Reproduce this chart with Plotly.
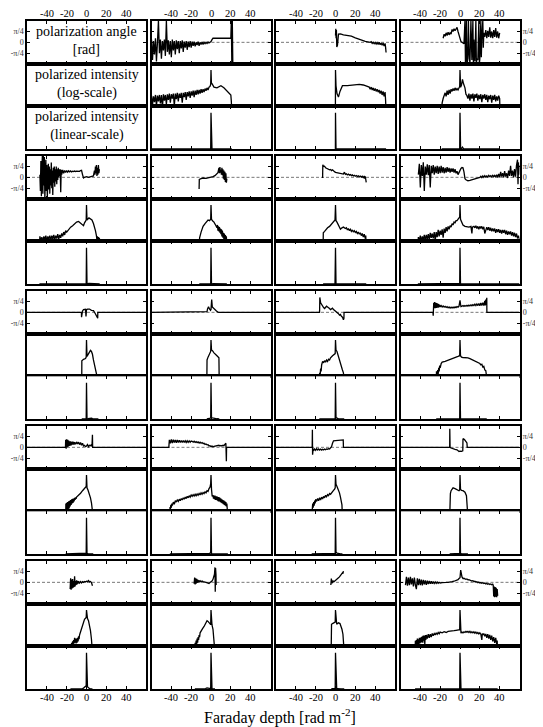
import math
import plotly.graph_objects as go

# ---------------- data ----------------
# Faraday depth x [rad m^-2]; angle in rad; polarized intensity stored as log10(PI / PI_peak)

def steps(x0, dx, ys):
    return [(round(x0 + i * dx, 3), y) for i, y in enumerate(ys)]

X_TICKS = [-40, -20, 0, 20, 40]
X_TICKTEXT = ["-40", "-20", "0", "20", "40"]
ANG_TICKS = [-math.pi / 4, 0, math.pi / 4]
ANG_TICKTEXT = ["-π/4", "0", "π/4"]
LABELS_R1C1 = ["polarization angle<br>[rad]", "polarized intensity<br>(log-scale)",
               "polarized intensity<br>(linear-scale)"]

R1C2_ANG = steps(-60, 1, [0.2, -1.3, 0.1, -0.9, 0.3, -1.4, 0.0, 1.6, -0.8, 0.2, -1.2, 0.1, -0.6, 0.2, -1.0, 1.6,
                          -0.7, 0.15, -0.9, 0.1, -1.1, 0.2, -0.6, 0.1, -0.9, 0.15, -0.5, 0.1, -0.8, 0.1, -0.45, 0.15,
                          -0.7, 0.05, -0.4, 0.1, -0.55, 0.05, -0.35, 0.1, -0.4, 0.05, -0.25, 0.05, -0.3, 0.0, -0.2,
                          0.05, -0.25, 0.0, -0.15, 0.02, -0.15, 0.0, -0.1, 0.0, -0.08, 0.02, -0.05, 0.0, 0.05]) + \
    [(1, 0.2), (2, 0.3), (5, 0.3), (8, 0.32), (12, 0.3), (16, 0.3), (19, 0.28), (20, 0.3), (20.5, 1.6),
     (21, -1.6), (21.5, 1.6), (22, -1.6)]
R1C2_PI = steps(-60, 1, [-3.6, -4.9, -3.7, -4.5, -3.5, -5.0, -3.6, -4.4, -3.5, -4.7, -3.5, -5.2, -3.4, -4.3, -3.5,
                         -4.8, -3.4, -4.2, -3.3, -4.6, -3.4, -4.0, -3.3, -5.0, -3.3, -4.1, -3.2, -4.4, -3.3, -3.9,
                         -3.2, -4.6, -3.2, -3.8, -3.1, -4.2, -3.1, -3.7, -3.0, -3.9, -3.0, -3.6, -2.9, -3.8, -2.9,
                         -3.5, -2.8, -3.4, -2.8, -3.3, -2.7, -3.2, -2.7, -3.1, -2.6, -2.9, -2.5, -2.8, -2.4, -2.3]) + \
    [(-0.3, -2.0), (0, 0.0), (0.4, -1.8), (1, -1.9), (3, -2.4), (6, -2.5), (10, -2.2), (13, -2.5), (17, -3.0),
     (20, -3.5), (20.5, -4.4), (21, -6)]

R1C3_ANG = [(0, 0.5), (0.3, 1.0), (0.6, 0.3), (0.9, 0.9), (1.3, -0.35), (2, -0.2), (3, 0.6), (5, 0.62), (8, 0.55),
            (12, 0.52), (16, 0.45), (20, 0.33), (25, 0.2), (30, 0.07), (35, 0.0)] + \
    steps(36, 1, [0.05, -0.08, 0.0, -0.1, 0.0, -0.12, -0.02, -0.15, 0.0, -0.18, -0.05, -0.22, -0.05, -0.28, -0.08]) + \
    [(50.5, -0.35), (51, -0.75)]
R1C3_PI = [(-0.1, -6), (0, 0.0), (0.5, -2.2), (1.5, -3.3), (3, -3.8), (4.5, -3.0), (7, -2.2), (12, -2.2),
           (16, -2.1), (20, -2.0), (24, -2.0), (28, -2.1), (32, -2.3)] + \
    steps(34, 1, [-2.4, -2.7, -2.4, -2.8, -2.5, -2.9, -2.6, -3.0, -2.7, -3.1, -2.8, -3.3, -2.9, -3.5, -3.0, -3.7,
                  -3.1]) + [(50.5, -4.2), (51, -6)]

R1C4_ANG = steps(-17, 1, [0.3, 0.6, 0.45, 0.7, 0.5, 0.75, 0.55, 0.7, 0.6, 0.95, 0.8, 1.0, 0.85, 1.05, 1.1, 0.8, 0.5,
                          0.15, 0.05, 0.0, -0.05, -0.1]) + \
    [(5, 1.6), (5.5, -1.6), (6, -0.8), (6.5, 1.6), (7, -1.6), (8, -1.2), (8.5, 1.6), (9, -0.5), (10, -1.6),
     (11, 1.6), (11.5, -1.2), (12, -1.3), (13, 1.6), (13.5, -1.6), (14, 0.2), (15, -1.4), (16, 1.6), (16.5, -1.6),
     (17, -1.2), (18, -1.3), (19, 1.6), (19.5, -1.6), (20, -1.2), (21, 1.6), (21.5, -1.1), (22, 0.3), (23, 1.6),
     (23.5, -0.4), (24, 0.7)] + \
    steps(25, 1, [0.4, 0.9, 0.3, 0.85, 0.4, 1.1, 0.35, 0.8, 0.3, 0.9, 0.4, 1.05, 0.35, 0.8, 0.3, 0.7])
R1C4_PI = [(-18.5, -6)] + \
    steps(-18, 1, [-4.6, -4.0, -3.6, -3.2, -3.7, -2.9, -3.5, -2.8, -3.3, -2.7, -3.0, -2.6, -2.9, -2.5, -2.8, -2.6,
                   -2.8, -2.5]) + \
    [(-0.3, -2.3), (0, 0.0), (0.6, -2.4), (1.5, -2.1), (2.5, -1.3), (3.5, -1.9), (5, -2.5), (6, -3.4), (7, -3.6)] + \
    steps(8, 1, [-4.0, -3.3, -4.3, -3.4, -4.0, -3.3, -4.4, -3.4, -3.9, -3.3, -4.3, -3.5, -4.1, -3.4, -4.5, -3.5,
                 -4.0, -3.4, -4.2, -3.5, -4.5, -3.6, -4.1, -3.5, -4.6, -3.6, -4.2, -3.5, -4.4, -3.7, -4.3, -3.6,
                 -4.0]) + [(40.3, -6)]

R2C1_ANG = steps(-47, 0.5, [0.2, -1.0, 1.2, -1.4, 0.6, 1.6, -1.2, 1.6, -0.6, 1.5, -1.6, 0.4, 1.3, -1.0, 0.9, -1.5,
                            0.5, 1.0, -0.9, 0.8, -1.2, 0.6, -0.6, 1.1, -0.8, 0.5, -1.3, 0.7, -0.4, 0.8, -0.7, 0.6,
                            -0.3, 0.8, -0.5, 0.6, -0.2, 0.7, 0.0, 0.6, 0.1, 0.6, -1.1, 0.55, 0.2]) + \
    steps(-24, 1, [0.55, 0.3, 0.5, 0.35, 0.5, 0.38, 0.48, 0.4, 0.47, 0.4, 0.45, 0.42, 0.46, 0.42, 0.45, 0.43, 0.45,
                   0.44, 0.5, 0.52, 0.2, -0.05, 0.0]) + \
    [(0, 0.05), (2, 0.0), (4, 0.02), (6, 0.05), (7, 0.1)] + \
    steps(8, 0.5, [0.5, 0.2, 0.8, 0.3, 0.9, 0.1, 0.7, 0.2, 0.9, 0.3, 0.6])
R2C1_PI = [(-47.5, -6)] + \
    steps(-47, 1, [-4.4, -5.0, -4.5, -5.2, -4.4, -4.9, -4.3, -5.1, -4.4, -4.8, -4.3, -5.0, -4.3, -4.8, -4.2, -4.9,
                   -4.3, -4.7, -4.1, -4.8, -4.2, -4.6, -4.0, -4.4, -3.8, -4.2, -3.6]) + \
    [(-20, -3.8), (-18, -3.4), (-16, -3.1), (-14, -2.9), (-12, -2.6), (-10, -2.4), (-8, -2.3), (-6, -2.5),
     (-4, -2.8), (-3, -2.9), (-2, -2.5), (-1, -2.2), (-0.3, -2.1), (0, 0.0), (0.5, -2.1), (1.2, -2.0), (2.5, -1.8),
     (4, -1.9), (5.5, -2.1), (7, -2.6), (8, -3.0), (9, -3.6), (10, -4.3)] + \
    steps(10.5, 0.5, [-4.9, -4.4, -5.0, -4.5, -5.1, -4.6]) + [(13.3, -6)]

R2C2_ANG = [(-12, -0.86), (-11.8, -0.15), (-10, -0.1), (-8, -0.05), (-5, -0.08), (-3, -0.05), (0, 0.0), (2, 0.05),
            (4, 0.12), (6, 0.25), (7, 0.35)] + \
    steps(8, 0.5, [0.7, 0.3, 0.75, 0.35, 0.55, 0.2, 0.7, 0.15, 0.6, -0.1, 0.5, -0.2, 0.4, -0.35, 0.3, -0.4, -0.1])
R2C2_PI = [(-11.8, -6), (-11.5, -4.6), (-10, -3.8), (-8, -3.0), (-6, -2.6), (-5, -2.4), (-3, -2.1), (-1.5, -2.2),
           (-0.3, -2.0), (0, 0.0), (0.5, -2.0), (1.5, -2.2), (3, -2.4), (5, -2.9)] + \
    steps(6, 0.5, [-3.2, -2.8, -3.6, -3.0, -3.7, -3.1, -3.9, -3.3, -4.1, -3.4, -4.4, -3.6, -4.6, -3.9, -4.8, -4.0,
                   -4.9, -4.2, -5.0, -4.4]) + [(16, -6)]

R2C3_ANG = [(-13, -0.05), (-12.8, 0.93)] + \
    steps(-12, 1, [0.8, 0.82, 0.7, 0.66, 0.6, 0.62, 0.55, 0.58, 0.5, 0.55, 0.45, 0.42, 0.37, 0.36, 0.3, 0.34, 0.28,
                   0.31, 0.26, 0.3, 0.24, 0.38, 0.22, 0.26, 0.18, 0.24, 0.16, 0.2, 0.13, 0.18, 0.1, 0.15, 0.08, 0.13,
                   0.06, 0.11, 0.04, 0.09, 0.02, 0.08, -0.02, 0.1]) + \
    [(29.5, -0.1), (30, 0.08), (30.5, -0.2), (31, -0.37)]
R2C3_PI = [(-12.5, -6), (-12.3, -3.9), (-11, -3.7), (-10, -3.5), (-8, -3.2), (-6, -3.0), (-4, -2.7), (-2, -2.4),
           (-0.5, -2.1), (0, 0.0), (0.5, -2.2), (1.5, -2.4), (3, -2.9), (5, -3.4), (6.5, -3.2), (8, -3.1),
           (10, -3.3)] + \
    steps(11, 1, [-3.2, -3.5, -3.3, -3.6, -3.4, -3.7, -3.5, -3.8, -3.6, -3.85, -3.7, -4.0, -3.8, -4.1, -3.9, -4.3,
                  -4.0, -4.5, -4.1, -4.7]) + [(30.5, -4.3), (31, -6)]

R2C4_ANG = steps(-42, 1, [0.2, 1.0, -0.75, 0.9, 0.1, 1.1, -1.0, 0.8, 0.2, 0.95, 0.15, 0.9, -0.75, 0.85, 0.3, 0.9,
                          0.2, 0.8, 0.3, 0.85, 0.25, 0.8, 0.3, 0.85, 0.35, 0.75, 0.3, 0.7, 0.35, 0.75, 0.4, 0.7,
                          0.35, 0.65, 0.4, 0.65, 0.35, 0.6, 0.3, 0.45, 0.2, 0.35, 0.55, 0.65, 0.72, 0.7, 0.4, -0.1,
                          -0.18]) + \
    [(8, -0.25), (10, -0.22), (12, -0.18), (14, -0.12), (16, -0.08), (18, -0.05), (20, 0.0)] + \
    steps(21, 1, [0.08, -0.02, 0.1, 0.0, 0.12, 0.02, 0.1, 0.03, 0.14, 0.05, 0.12, 0.04, 0.15, 0.05, 0.14, 0.02, 0.2,
                  0.0, 0.25, 0.0, 0.4, 0.05, 0.3, 0.0, 0.45, 0.05, 0.3, -0.05, 0.5, 0.1, 0.85, 0.1, 0.5, 0.0, 0.6,
                  0.05, 0.9, 1.3]) + \
    [(58.5, -0.5), (59, 1.1), (59.5, 0.2), (60, 0.9)]
R2C4_PI = [(-42.5, -6)] + \
    steps(-42, 1, [-4.5, -5.0, -4.3, -5.1, -4.4, -4.9, -4.2, -5.0, -4.2, -4.8, -4.1, -4.9, -3.9, -4.6, -4.0, -4.7,
                   -3.8, -5.0, -3.8, -4.5, -3.5, -4.4, -3.6, -4.2, -3.4, -4.6, -3.3, -3.9, -3.1, -3.7, -3.0, -3.4,
                   -2.9, -3.1, -2.6, -2.8, -2.4, -2.5, -2.2, -2.2, -1.9, -1.8]) + \
    [(-0.3, -1.7), (0, 0.0), (0.5, -2.0), (1.5, -2.3), (3, -2.8), (5, -3.0), (7, -3.05), (9, -3.1), (11, -3.0),
     (12, -4.0), (12.5, -3.1), (14, -3.0)] + \
    steps(15, 1, [-3.2, -2.9, -3.3, -3.0, -3.4, -3.0, -3.3, -3.0, -3.4, -3.05, -4.0]) + \
    steps(26, 1, [-3.4, -3.1, -3.5, -3.1, -3.6, -3.2, -3.7, -3.3, -3.7, -3.3, -3.9, -3.4, -3.8, -3.4, -3.9, -3.5,
                  -4.0, -3.5, -3.9, -3.5, -4.1, -3.6, -4.2, -3.7, -4.1, -3.7, -4.3, -3.8, -4.4, -3.9, -4.5, -4.0,
                  -4.7, -4.3, -4.8])

R3C1_ANG = [(-60, 0), (-5.1, 0), (-5, -0.36), (-4, 0.1), (-3, 0.2), (-2, 0.24), (-1, 0.22), (-0.5, -0.31),
            (0, 0.2), (1, 0.24), (3, 0.24), (5, 0.15), (7, 0.12), (8.5, -0.05), (10, -0.24), (11.3, -0.43),
            (11.4, 0), (60, 0)]
R3C1_PI = [(-4.8, -6), (-4.7, -2.9), (-3, -2.7), (-1, -2.6), (-0.3, -2.4), (0, 0.0), (0.5, -2.3), (1.5, -2.1),
           (2.5, -1.75), (4, -1.45), (5, -1.6), (6, -2.0), (7, -2.8), (8, -3.3), (9, -3.7), (10, -4.1),
           (11.5, -4.8), (12, -6)]

R3C2_ANG = [(-60, 0), (-4.1, 0), (-4, 0.05), (-3.5, 0.25), (-2.5, 0.4), (-1.5, 0.25), (-0.5, 0.15), (0, 0.2),
            (0.7, 0.95), (1.3, 0.4), (2.5, 0.3), (4, 0.25), (5.5, 0.1), (7, 0.02), (8, 0.0), (60, 0)]
R3C2_PI = [(-4.2, -6), (-4, -2.8), (-3, -2.4), (-2, -2.1), (-1, -1.8), (-0.3, -1.6), (0, 0.0), (0.5, -1.4),
           (1.5, -1.5), (3, -1.8), (6, -2.2), (8, -2.5), (8.3, -6)]

R3C3_ANG = [(-60, 0), (-16.1, 0), (-16, 0.2), (-15.8, 1.1), (-15, 0.7), (-14, 0.55), (-13, 0.4), (-12, 0.35),
            (-11, 0.28), (-10, 0.35), (-9, 0.45), (-8, 0.4), (-7, 0.3), (-6, 0.28), (-5, 0.2), (-4, 0.25),
            (-3, 0.3), (-2, 0.2), (-1, 0.15), (0, 0.1), (1, 0.0), (2, -0.05), (3, -0.1), (4, -0.2), (5, -0.15),
            (6, -0.3), (7, -0.35), (8, -0.55), (8.5, -0.45), (8.6, 0), (60, 0)]
R3C3_PI = [(-16.3, -6), (-16, -4.6), (-15.5, -5.0), (-15, -4.0), (-14.5, -4.4), (-14, -3.5), (-13, -3.0),
           (-12, -3.2), (-11, -2.9), (-10, -3.1), (-9, -2.8), (-8, -3.0), (-7, -2.7), (-6, -2.8), (-5, -2.5),
           (-3, -2.2), (-1, -2.0), (-0.3, -1.9), (0, 0.0), (0.5, -1.4), (1.5, -1.6), (3, -2.4), (5, -3.4),
           (7, -4.2), (8, -4.6), (8.8, -6)]

R3C4_ANG = [(-60, 0), (-27.3, 0), (-27, -0.25)] + \
    steps(-26.5, 0.5, [0.7, 0.3, 0.75, 0.3, 0.7, 0.32, 0.68, 0.35, 0.65, 0.35, 0.6, 0.38, 0.55, 0.4]) + \
    steps(-19, 1, [0.5, 0.4, 0.47, 0.38, 0.44, 0.36, 0.42, 0.33, 0.4, 0.31, 0.38, 0.32, 0.38, 0.33, 0.4, 0.35, 0.42,
                   0.38, 0.45]) + \
    [(0, 0.88), (0.5, 0.6)] + \
    steps(1, 1, [0.42, 0.45, 0.5, 0.44, 0.5, 0.45, 0.52, 0.46, 0.53, 0.47, 0.55, 0.48, 0.56, 0.5, 0.6, 0.5, 0.62,
                 0.5, 0.65, 0.48, 0.68, 0.5, 0.7, 0.5]) + \
    [(25, 0.85), (25.5, 0.5), (26, 0.95), (26.5, 0.55), (27, 1.07), (27.1, 0), (60, 0)]
R3C4_PI = [(-24, -6), (-23.7, -4.4), (-23, -5.0), (-22.5, -4.2), (-22, -4.8), (-21.5, -3.9), (-21, -4.4),
           (-20.5, -3.6), (-20, -3.9), (-19, -3.3), (-18, -3.1), (-15, -3.0), (-12, -2.85), (-10, -2.8),
           (-7, -2.65), (-4, -2.5), (-2, -2.3), (-0.3, -2.2), (0, 0.0), (0.5, -2.2), (1.5, -2.4), (3, -2.45),
           (5, -2.45), (8, -2.5), (10, -2.6), (13, -2.8), (16, -3.0), (18, -3.2), (20, -3.3), (21, -3.5),
           (22, -3.4), (23, -3.8), (24, -3.7), (25, -4.2), (26, -4.3), (26.5, -4.8), (27, -6)]

R4C1_ANG = [(-60, 0), (-21.2, 0)] + \
    steps(-21, 0.5, [0.55, -0.1, 0.6, 0.0, 0.55, 0.05, 0.5, 0.1, 0.45, 0.12, 0.45, 0.15, 0.4, 0.2, 0.42, 0.2, 0.4,
                     0.2, 0.38]) + \
    steps(-11, 1, [0.22, 0.4, 0.25, 0.38, 0.2, 0.35, 0.15, 0.3, 0.1, 0.15, 0.05, 0.1, 0.2, 0.05, 0.15, 0.12, 0.2]) + \
    [(5.5, 0.05), (6, 0.93), (6.2, 0), (60, 0)]
R4C1_PI = [(-21, -6), (-20.8, -4.0)] + \
    steps(-20.5, 0.5, [-5.2, -3.9, -5.0, -3.8, -4.9, -3.7, -4.7, -3.6, -4.4, -3.5, -4.2, -3.4, -4.0, -3.35, -3.9,
                       -3.3, -3.7, -3.2, -3.5, -3.15, -3.35, -3.1]) + \
    [(-8, -2.85), (-6, -2.55), (-4, -2.2), (-2, -1.8), (-0.3, -1.6), (0, 0.0), (0.5, -1.8), (1.5, -2.1), (3, -2.7),
     (4, -3.2), (5, -3.9), (6, -4.6), (6.8, -6)]

R4C2_ANG = [(-60, 0), (-42.5, 0), (-42.3, 0.25)] + \
    steps(-42, 1, [0.55, 0.3, 0.58, 0.32, 0.56, 0.35, 0.55, 0.34, 0.54, 0.36, 0.52, 0.35, 0.5, 0.36, 0.5, 0.36, 0.48,
                   0.36, 0.48, 0.37, 0.47, 0.37, 0.46]) + \
    steps(-19, 1, [0.44, 0.38, 0.45, 0.36, 0.42, 0.35, 0.4, 0.32, 0.38, 0.3, 0.35, 0.28, 0.3, 0.22, 0.25, 0.18, 0.2,
                   0.1, 0.12, 0.05, 0.1, 0.04, 0.08, 0.1, 0.14, 0.12, 0.18, 0.15, 0.1, 0.14, 0.1, 0.15, 0.12, 0.18]) + \
    [(15, 0.3), (15.5, -1.03), (15.7, 0), (60, 0)]
R4C2_PI = [(-41.5, -6), (-41.3, -4.5), (-41, -4.9), (-40.5, -4.2), (-40, -4.6), (-39.5, -4.0), (-39, -4.3)] + \
    steps(-38, 1, [-3.8, -4.1, -3.6, -3.8, -3.5, -3.7, -3.4, -3.6, -3.3, -3.5, -3.2, -3.4, -3.1, -3.3, -3.0, -3.2,
                   -2.9, -3.1, -2.8, -3.0, -2.75, -2.95, -2.7, -2.9, -2.65, -2.85, -2.6, -2.8, -2.5, -2.7, -2.45,
                   -2.6, -2.35, -2.5, -2.2, -2.3, -1.9, -1.7]) + \
    [(-0.3, -1.2), (0, 0.0), (0.5, -2.0), (1.2, -3.0)] + \
    steps(2, 0.5, [-2.8, -3.3, -2.9, -3.4, -2.9, -3.5, -3.0, -3.5, -3.0, -3.6, -3.1, -3.7, -3.1, -3.7, -3.2, -3.8,
                   -3.3, -3.9, -3.4, -4.0, -3.5, -4.1, -3.6, -4.2, -3.7, -4.3, -3.8, -4.4, -4.0, -4.6]) + [(17, -6)]

R4C3_ANG = [(-60, 0), (-23.5, 0), (-23.3, 1.3), (-23.1, -0.54), (-22.5, -0.1)] + \
    steps(-22, 1, [-0.25, -0.12, -0.22, -0.1, -0.2, -0.12, -0.2, -0.13, -0.2, -0.14, -0.19, -0.13, -0.18, -0.12,
                   -0.15, -0.1, -0.12, -0.05, 0.05, 0.3, 0.48]) + \
    [(0, 0.5), (2, 0.52), (4, 0.55), (6, 0.52), (7.8, 0.55), (8, 0), (60, 0)]
R4C3_PI = [(-24, -6), (-23.7, -4.2), (-23.3, -4.9), (-23, -4.0), (-22.5, -4.6), (-22, -3.8), (-21.5, -4.3),
           (-21, -3.6), (-20.5, -4.0), (-20, -3.4)] + \
    steps(-19, 1, [-3.7, -3.3, -3.6, -3.2, -3.5, -3.1, -3.35, -3.0, -3.2, -2.85, -3.05, -2.75, -2.9, -2.6, -2.7,
                   -2.45, -2.4, -2.15, -2.0]) + \
    [(-0.3, -1.8), (0, 0.0), (0.5, -1.3), (1.5, -1.6), (3, -2.1), (4, -2.5), (5, -3.1), (6, -3.8), (6.5, -4.2),
     (7, -6)]

R4C4_ANG = [(-60, 0), (-10.4, 0), (-10.3, 1.37), (-10, 0.0), (-9, -0.05), (-7, -0.12), (-5, -0.15), (-3, -0.18),
            (-1, -0.3), (0, -0.28), (1.5, -0.3), (2.8, -0.25), (3, 0.64), (4.5, 0.57), (5.7, 0.39), (7, 0.32),
            (7.3, 0), (60, 0)]
R4C4_PI = [(-10.4, -6), (-10.3, -3.3), (-9.7, -2.6), (-9, -2.2), (-7, -1.8), (-5, -1.9), (-3, -2.1), (-1, -2.2),
           (-0.3, -2.1), (0, 0.0), (0.5, -2.0), (1.5, -2.15), (3, -2.2), (5, -2.4), (6.5, -2.9), (7.5, -3.9),
           (8, -6)]

R5C1_ANG = steps(-16.5, 0.5, [-0.5, 0.3, -0.55, 0.2, -0.45, 0.25, -0.4, 0.1, -0.35, 0.45, -0.3, 0.1, -0.2, 0.15,
                              -0.15, 0.1, -0.1, 0.08]) + \
    steps(-7, 1, [-0.05, 0.06, -0.04, 0.05, 0.0, 0.06, 0.02, 0.08, 0.05, 0.13, 0.03, 0.06, -0.02]) + \
    [(5.5, -0.15), (6, -0.25)]
R5C1_PI = [(-16.2, -6)] + \
    steps(-16, 0.5, [-4.8, -5.3, -4.6, -5.2, -4.4, -5.0, -4.2, -4.7, -3.9, -4.6, -4.0, -4.7, -4.0, -4.6, -3.9, -4.4,
                     -3.7, -4.1, -3.5]) + \
    [(-6, -3.1), (-5, -2.5), (-4, -2.0), (-3, -1.6), (-2, -1.3), (-1, -1.15), (-0.3, -1.05), (0, 0.0), (0.5, -1.1),
     (1, -1.2), (2, -1.5), (3, -2.1), (4, -2.9), (5, -4.1), (6, -6)]

R5C2_ANG = steps(-17, 0.5, [-0.1, 0.35, -0.15, 0.3, -0.1, 0.25, -0.05, 0.2, 0.0, 0.15, 0.02]) + \
    steps(-11, 1, [0.12, 0.04, 0.1, 0.05, 0.06, 0.02, 0.0, -0.03, -0.05, -0.08, -0.02, 0.02, 0.1, 0.22, 0.45]) + \
    [(3.5, 0.6), (4, 1.1), (4.3, -0.7), (4.6, 1.05), (5, 0.6), (5.2, -0.2)]
R5C2_PI = [(-16.3, -6)] + \
    steps(-16, 0.5, [-4.6, -5.1, -4.3, -4.9, -4.0, -4.6, -3.8, -4.2, -3.5, -3.8, -3.2]) + \
    [(-10, -2.9), (-8.5, -2.6), (-7, -2.3), (-5.5, -1.9), (-4, -1.5), (-3, -1.6), (-2, -1.8), (-1, -2.0),
     (-0.3, -2.05), (0, 0.0), (0.5, -2.0), (1, -2.1), (2, -2.7), (3, -3.6), (3.8, -4.6), (4, -6)]

R5C3_ANG = [(-4.7, -0.2), (-4.2, 0.27), (-3.5, -0.07), (-2.5, 0.1), (-1.5, 0.05), (0, 0.17), (1, 0.2), (2, 0.28),
            (3, 0.34), (4, 0.4), (5, 0.5), (6, 0.55), (7, 0.7), (7.5, 0.65), (8, 0.83)]
R5C3_PI = [(-4.4, -6), (-4.3, -2.6), (-4, -2.0), (-3, -1.9), (-1, -1.8), (-0.3, -1.7), (0, 0.0), (0.5, -1.9),
           (1.2, -2.0), (2, -1.9), (3, -1.8), (4.5, -1.9), (5.5, -2.2), (6.5, -2.7), (7.5, -3.4), (8.3, -4.4),
           (8.8, -6)]

R5C4_ANG = steps(-55, 1, [-0.2, 0.4, -0.25, 0.35, -0.2, 0.4, -0.15, 0.3, -0.3, 0.35, -0.2, -0.5, 0.3, -0.2, 0.25,
                          -0.2, 0.2, -0.22, 0.18, -0.15, 0.15, -0.18, 0.12, -0.12, 0.1, -0.1, 0.08, -0.1, 0.05,
                          -0.08, 0.03, -0.08, 0.02, -0.07, 0.0, -0.05]) + \
    [(-18, -0.02), (-16, -0.04), (-14, -0.01), (-12, 0.0), (-10, 0.0), (-8, 0.05), (-6, 0.08), (-4, 0.12),
     (-2, 0.2), (-1, 0.28), (0, 0.34), (0.7, 0.9), (1.2, 0.45)] + \
    steps(2, 1, [0.4, 0.28, 0.3, 0.25, 0.22, 0.25, 0.18, 0.2, 0.15, 0.16, 0.1, 0.12, 0.06, 0.08, 0.02, 0.05, -0.02,
                 0.02, -0.05, -0.02, -0.07, -0.03, -0.09, -0.05, -0.12, -0.08, -0.14, -0.1, -0.16, -0.12, -0.18,
                 -0.13]) + \
    steps(33.5, 0.5, [-0.2, -1.05, -0.3, -1.1, -0.35, -1.05, -0.4, -1.1, -0.5, -1.0])
R5C4_PI = [(-45.3, -6)] + \
    steps(-45, 0.5, [-4.3, -5.2, -4.2, -5.0, -4.0, -4.9, -4.1, -4.8, -3.9, -4.7, -3.9, -4.6, -3.8, -4.5, -3.7, -4.6,
                     -3.6, -4.3, -3.6, -4.8, -3.5, -4.2, -3.5]) + \
    steps(-33, 1, [-4.0, -3.4, -3.9, -3.4, -3.8, -3.3, -3.6, -3.3, -3.5, -3.2, -3.4, -3.15, -3.35, -3.1]) + \
    [(-18, -3.2), (-16, -3.05), (-14, -3.15), (-12, -3.0), (-10, -3.0), (-8, -2.95), (-6, -2.9), (-4, -2.85),
     (-2, -2.8), (-0.3, -2.75), (0, 0.0), (0.5, -2.8)] + \
    steps(1, 1, [-3.25, -3.1, -3.2, -3.05, -3.15, -3.0, -3.1, -3.0, -3.15, -3.0, -3.2, -3.05, -3.2, -3.05, -3.25,
                 -3.1, -3.3, -3.15, -3.35, -3.2, -3.4, -4.2]) + [(22.5, -3.3)] + \
    steps(23, 1, [-3.5, -3.3, -3.7, -3.35, -3.9, -3.4, -4.0, -3.5, -4.2, -3.6, -4.4, -3.8, -4.6, -3.9, -4.8]) + \
    [(37.5, -4.3), (38, -6)]

PANELS = {
    (0, 1): (R1C2_ANG, R1C2_PI), (0, 2): (R1C3_ANG, R1C3_PI), (0, 3): (R1C4_ANG, R1C4_PI),
    (1, 0): (R2C1_ANG, R2C1_PI), (1, 1): (R2C2_ANG, R2C2_PI), (1, 2): (R2C3_ANG, R2C3_PI), (1, 3): (R2C4_ANG, R2C4_PI),
    (2, 0): (R3C1_ANG, R3C1_PI), (2, 1): (R3C2_ANG, R3C2_PI), (2, 2): (R3C3_ANG, R3C3_PI), (2, 3): (R3C4_ANG, R3C4_PI),
    (3, 0): (R4C1_ANG, R4C1_PI), (3, 1): (R4C2_ANG, R4C2_PI), (3, 2): (R4C3_ANG, R4C3_PI), (3, 3): (R4C4_ANG, R4C4_PI),
    (4, 0): (R5C1_ANG, R5C1_PI), (4, 1): (R5C2_ANG, R5C2_PI), (4, 2): (R5C3_ANG, R5C3_PI), (4, 3): (R5C4_ANG, R5C4_PI),
}

# ---------------- layout ----------------
# the page body adds an 8 px margin, so every screen position is shifted back by 8 px
W, H = 543, 727
OFF = 8


def px_y(screen_y):
    return 1 - (screen_y - OFF) / H


COL_LEFT = [27, 151.5, 276, 400.5]
COL_W = 119
ROW_TOP = [21, 156, 291, 426, 561]
ROW_H = 128
SUB_H = ROW_H / 3
FONT = "Liberation Serif"
LABEL_CENTER_Y = [40, 84, 126]

fig = go.Figure()
layout = dict(width=W, height=H, margin=dict(l=0, r=0, t=0, b=0, pad=0, autoexpand=False), autosize=False,
              template="none",
              paper_bgcolor="white", plot_bgcolor="white", showlegend=False,
              font=dict(family=FONT, color="black"), shapes=[], annotations=[])

k = 0
for r in range(5):
    for c in range(4):
        data = PANELS.get((r, c))
        for s in range(3):
            k += 1
            xname = "xaxis" if k == 1 else f"xaxis{k}"
            yname = "yaxis" if k == 1 else f"yaxis{k}"
            xref = "x" if k == 1 else f"x{k}"
            yref = "y" if k == 1 else f"y{k}"
            L = COL_LEFT[c] - OFF
            top = ROW_TOP[r] - OFF + s * SUB_H
            bot = top + SUB_H
            xd = dict(domain=[L / W, (L + COL_W) / W], range=[-60, 60], tickvals=X_TICKS,
                      ticks="inside", ticklen=3, tickwidth=1, tickcolor="black", showline=True,
                      linecolor="black", linewidth=1.5, mirror="ticks", showgrid=False, zeroline=False,
                      automargin=False, showticklabels=False, anchor=yref)
            yd = dict(domain=[1 - bot / H, 1 - top / H], anchor=xref, showline=True, linecolor="black",
                      linewidth=1.5, mirror=True, showgrid=False, zeroline=False, showticklabels=False,
                      automargin=False, ticks="")
            if s == 0:
                yd.update(range=[-math.pi / 2, math.pi / 2], tickvals=ANG_TICKS, ticktext=ANG_TICKTEXT,
                          ticks="inside", ticklen=3, tickwidth=1, tickcolor="black", mirror="ticks",
                          tickfont=dict(family=FONT, size=8, color="#333"))
                if c == 0:
                    yd.update(showticklabels=True, side="left")
                if c == 3:
                    yd.update(showticklabels=True, side="right")
            elif s == 1:
                yd.update(type="log", range=[-5.1, 0.9])
            else:
                yd.update(range=[0, 1.18])
            layout[xname] = xd
            layout[yname] = yd

            # x tick labels: above the top row, below the bottom row
            if (r == 0 and s == 0) or (r == 4 and s == 2):
                ly = px_y(14) if r == 0 else px_y(697)
                for tv, tt in zip(X_TICKS, X_TICKTEXT):
                    layout["annotations"].append(dict(
                        text=tt, x=tv, y=ly, xref=xref, yref="paper", xanchor="center", yanchor="middle",
                        showarrow=False, font=dict(family=FONT, size=10.5, color="black")))

            if data is None:
                fig.add_trace(go.Scatter(x=[0], y=[0.5 if s else 0], xaxis=xref, yaxis=yref, mode="lines",
                                         line=dict(color="rgba(0,0,0,0)"), hoverinfo="skip"))
                layout["annotations"].append(dict(
                    text=LABELS_R1C1[s], x=(L + COL_W / 2) / W, y=px_y(LABEL_CENTER_Y[s]), xref="paper",
                    yref="paper", xanchor="center", yanchor="middle", align="center",
                    showarrow=False, font=dict(family=FONT, size=14, color="black")))
                continue

            ang, pi = data
            if s == 0:
                layout["shapes"].append(dict(type="line", xref=xref, yref=yref, x0=-60, x1=60, y0=0, y1=0,
                                             line=dict(color="#777", width=1, dash="3px,2px"), layer="below"))
                xs = [p[0] for p in ang]
                ys = [p[1] for p in ang]
            else:
                xs = [p[0] for p in pi]
                ys = [10 ** p[1] for p in pi]
            fig.add_trace(go.Scatter(x=xs, y=ys, xaxis=xref, yaxis=yref, mode="lines",
                                     line=dict(color="black", width=1.3), hoverinfo="skip"))

layout["annotations"].append(dict(
    text="Faraday depth [rad m<sup>-2</sup>]", x=(280 - OFF) / W, y=px_y(716),
    xref="paper", yref="paper", xanchor="center", yanchor="middle",
    showarrow=False, font=dict(family=FONT, size=16, color="black")))

fig.update_layout(**layout)
fig.write_html("out.html")
